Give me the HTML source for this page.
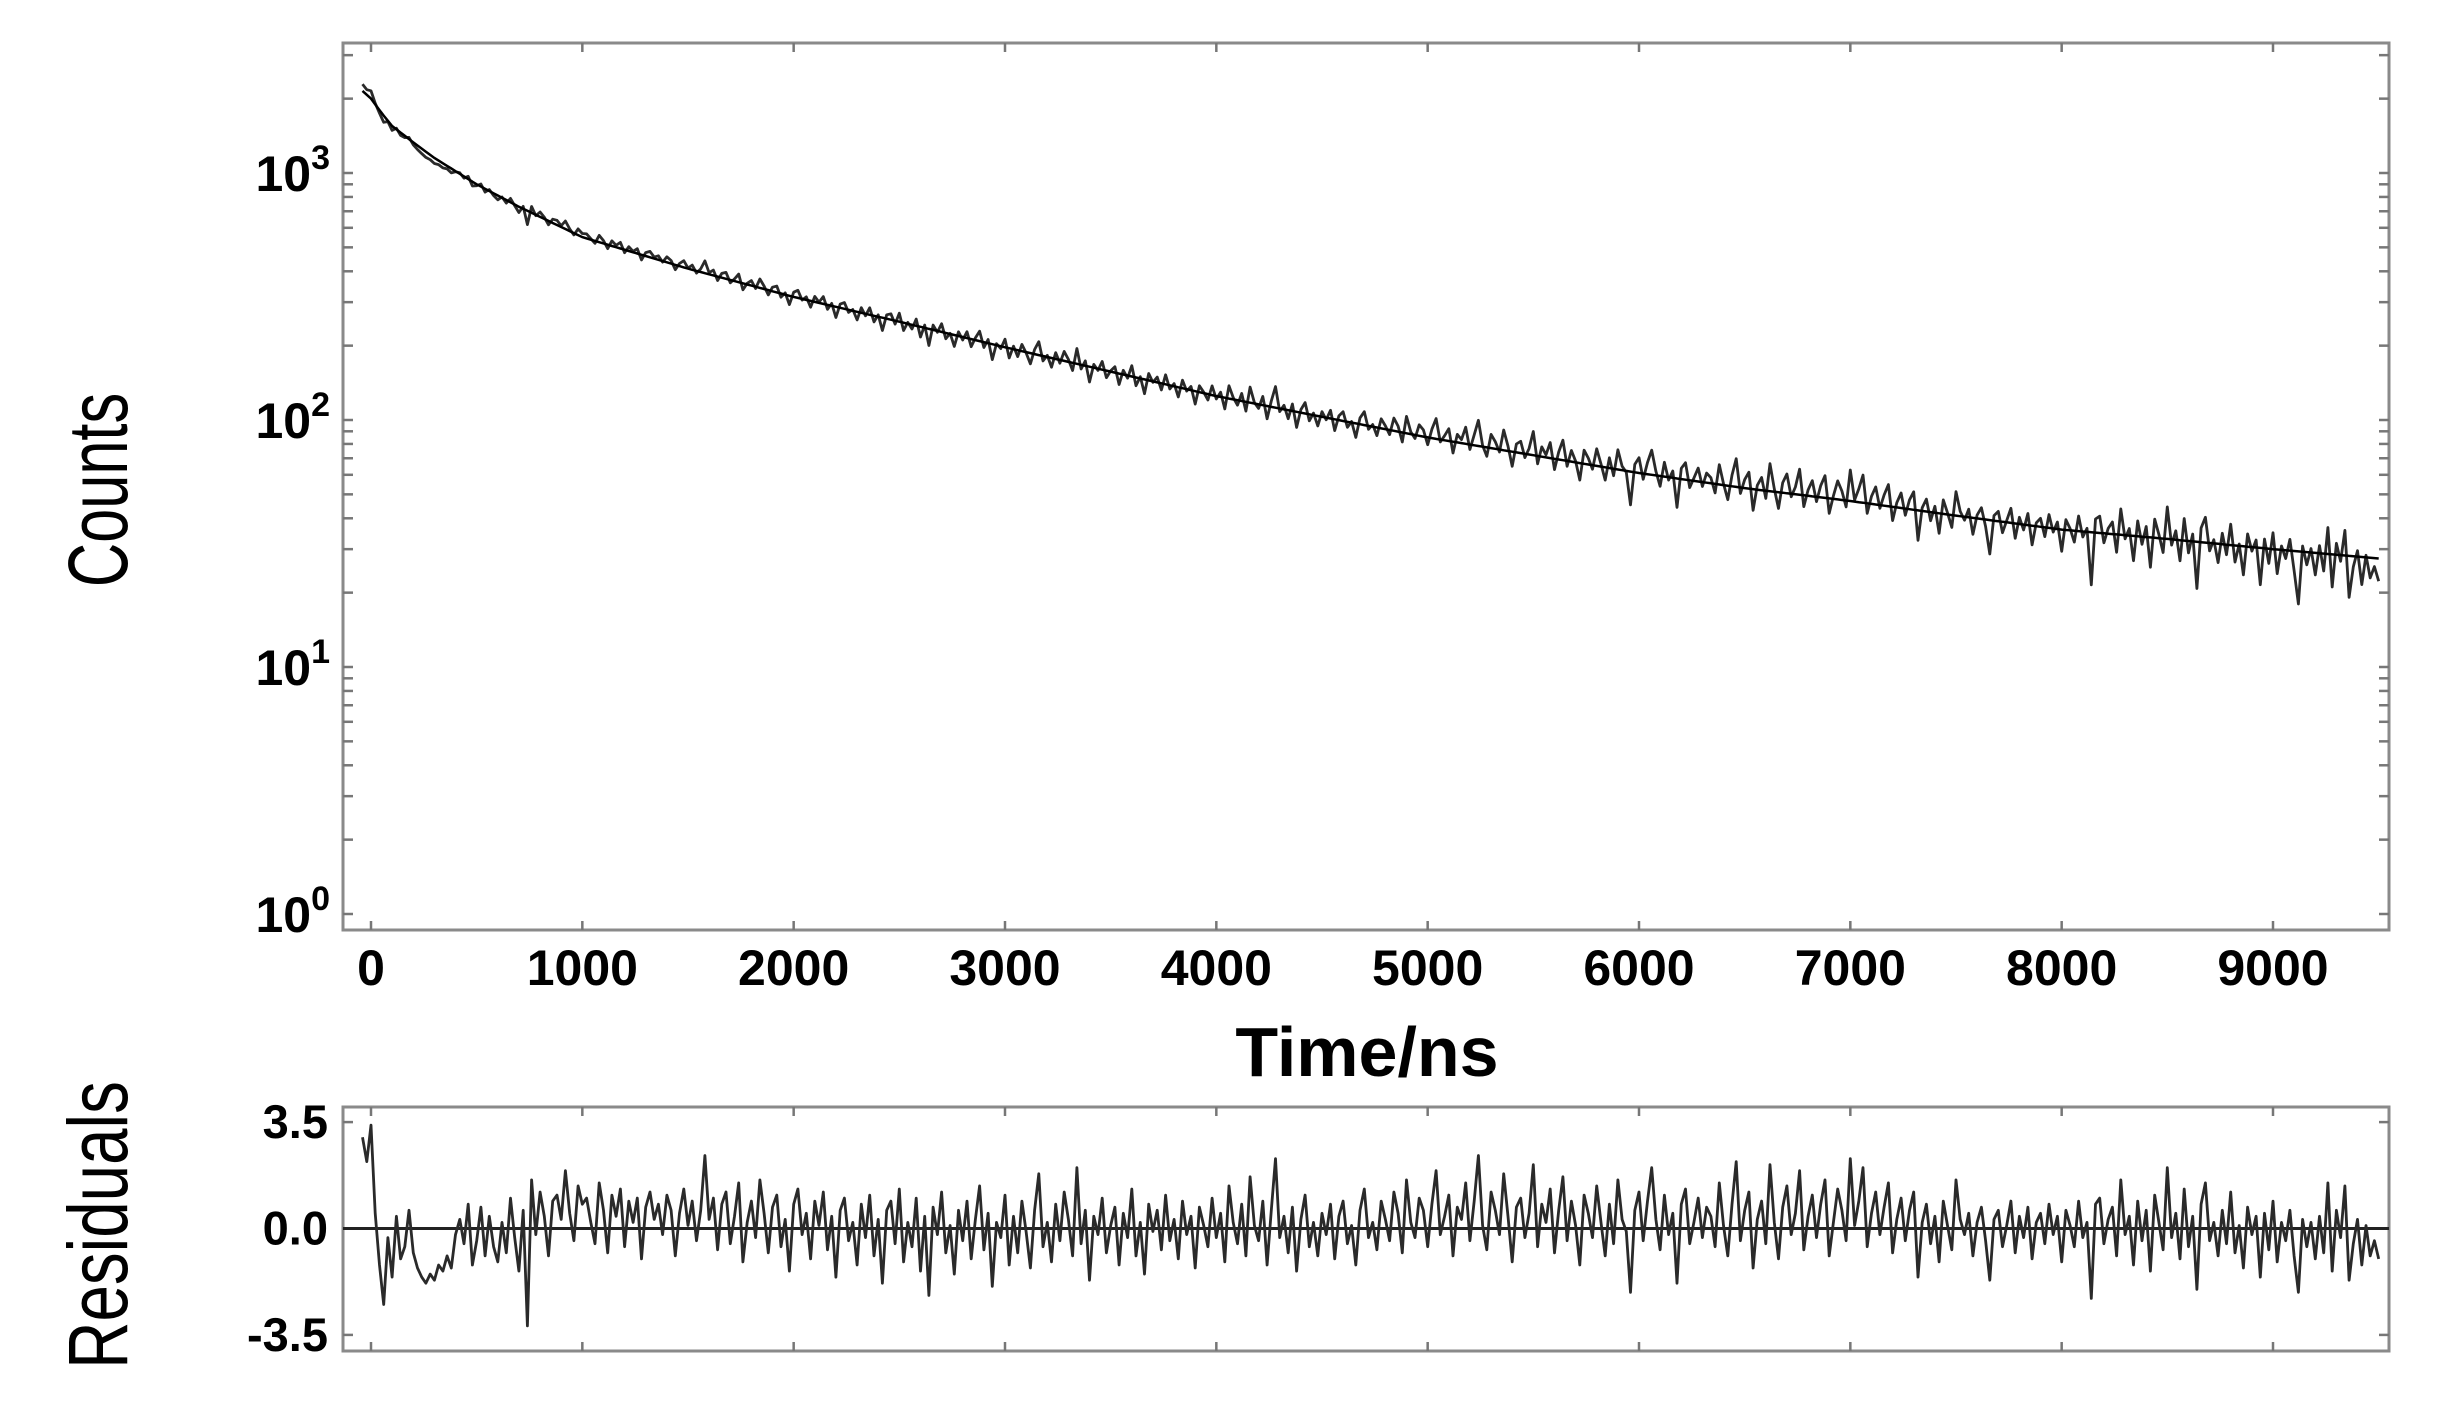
<!DOCTYPE html>
<html><head><meta charset="utf-8"><style>
html,body{margin:0;padding:0;background:#fff;}
svg{display:block;}
text{font-family:"Liberation Sans",sans-serif;fill:#000;}
</style></head><body>
<svg id="chart" width="2455" height="1426" viewBox="0 0 2455 1426" xmlns="http://www.w3.org/2000/svg">
<rect width="2455" height="1426" fill="#fff"/>
<g id="g"></g>
</svg>
<script>
// ---- data ----
const xTicks = [0,1000,2000,3000,4000,5000,6000,7000,8000,9000];
const yDecades = [0,1,2,3];
const resTicks = [3.5,0.0,-3.5];
const resTickLabels = ["3.5","0.0","-3.5"];
const fitTimes = [-40,0,50,100,200,300,500,700,1000,1500,2000,2500,3000,3500,4000,4500,5000,5500,6000,6500,7000,7500,8000,8500,9000,9500];
const fitValues = [2150,2000,1750,1550,1330,1150,900,730,550,410,315,250,197,157,125,103,85,72,61,53,47,41,36,33,30,27.5];
const tStart = -40;
const tStep = 20;
const residuals = [
3.0,2.2,3.4,0.5,-1.2,-2.5,-0.3,-1.6,0.4,-1.0,-0.6,0.6,-0.8,-1.3,-1.6,-1.8,-1.5,-1.7,-1.2,-1.4,
-0.9,-1.3,-0.2,0.3,-0.5,0.8,-1.2,-0.4,0.7,-0.9,0.4,-0.6,-1.1,0.2,-0.8,1.0,-0.3,-1.4,0.6,-3.2,
1.6,-0.2,1.2,0.4,-0.9,0.9,1.1,0.3,1.9,0.5,-0.4,1.4,0.8,1.0,0.2,-0.5,1.5,0.6,-0.8,1.1,
0.4,1.3,-0.6,0.9,0.2,1.0,-1.0,0.7,1.2,0.3,0.8,-0.2,1.1,0.6,-0.9,0.5,1.3,0.1,0.9,-0.4,
0.6,2.4,0.3,1.0,-0.7,0.8,1.2,-0.5,0.4,1.5,-1.1,0.2,0.9,-0.3,1.6,0.5,-0.8,0.7,1.1,-0.6,
0.3,-1.4,0.8,1.3,-0.2,0.5,-1.0,0.9,0.1,1.2,-0.7,0.4,-1.6,0.6,1.0,-0.4,0.2,-1.2,0.8,-0.3,
1.1,-0.9,0.3,-1.8,0.6,0.9,-0.5,1.3,-1.1,0.2,-0.6,1.0,-1.4,0.4,-2.2,0.7,-0.2,1.2,-0.8,0.1,
-1.5,0.6,-0.4,0.9,-1.0,0.3,1.4,-0.7,0.5,-1.9,0.2,-0.3,1.1,-1.2,0.4,-0.8,0.9,-0.1,-1.3,0.6,
1.8,-0.6,0.2,-1.1,0.8,-0.4,1.2,0.3,-0.9,2.0,-0.5,0.6,-1.7,0.4,-0.2,1.0,-0.8,0.1,0.7,-1.2,
0.5,-0.3,1.3,-0.9,0.2,-1.5,0.8,-0.1,0.6,-0.7,1.1,-0.4,0.3,-1.0,0.9,-0.2,0.4,-1.3,0.7,0.1,
-0.6,1.0,-0.3,0.5,-1.1,1.4,0.2,-0.5,0.8,-0.9,1.7,0.1,-0.4,0.9,-1.2,0.6,2.3,-0.3,0.4,-0.8,
0.7,-1.4,0.3,1.1,-0.6,0.2,-0.9,0.5,-0.2,0.8,-1.0,0.4,0.9,-0.5,0.1,-1.2,0.6,1.3,-0.3,0.2,
-0.7,0.9,0.3,-0.4,1.2,0.5,-0.8,1.6,0.2,-0.3,1.0,0.6,-0.6,0.8,1.9,-0.2,0.4,1.1,-0.9,0.7,
0.3,1.5,-0.4,0.9,2.4,0.1,-0.7,1.2,0.6,-0.2,1.8,0.4,-1.1,0.7,1.0,-0.3,0.5,2.1,-0.6,0.8,
0.2,1.3,-0.8,0.6,1.7,-0.4,0.9,0.1,-1.2,1.1,0.5,-0.3,1.4,0.2,-0.9,0.8,-0.5,1.6,0.3,-0.1,
-2.1,0.6,1.2,-0.4,0.9,2.0,0.3,-0.7,1.1,-0.2,0.5,-1.8,0.8,1.3,-0.5,0.2,1.0,-0.3,0.7,0.4,
-0.6,1.5,0.1,-0.9,0.8,2.2,-0.4,0.6,1.2,-1.3,0.3,0.9,-0.5,2.1,0.2,-1.0,0.7,1.4,-0.2,0.5,
1.9,-0.7,0.4,1.1,-0.3,0.8,1.6,-0.9,0.2,1.3,0.6,-0.4,2.3,0.1,0.9,2.0,-0.6,0.5,1.2,-0.2,
0.7,1.5,-0.8,0.3,1.0,-0.4,0.6,1.2,-1.6,0.2,0.8,-0.5,0.4,-1.1,0.9,0.1,-0.7,1.6,0.3,-0.2,
0.5,-0.9,0.2,0.7,-0.4,-1.7,0.3,0.6,-0.6,0.1,0.9,-0.8,0.4,-0.3,0.7,-1.0,0.2,0.5,-0.5,0.8,
-0.2,0.4,-1.1,0.6,0.1,-0.6,0.9,-0.3,0.2,-2.3,0.8,1.0,-0.5,0.3,0.7,-0.9,1.6,-0.2,0.4,-1.2,
0.9,-0.4,0.6,-1.4,1.1,0.2,-0.7,2.0,-0.3,0.5,-1.0,1.3,-0.6,0.4,-2.0,0.8,1.5,-0.4,0.2,-0.9,
0.6,-0.5,1.2,-0.8,0.1,-1.3,0.7,-0.2,0.4,-1.6,0.5,-0.7,0.9,-1.1,0.2,-0.4,0.6,-0.9,-2.1,0.3,
-0.6,0.2,-1.0,0.4,-0.8,1.5,-1.4,0.6,-0.3,1.4,-1.7,-0.5,0.3,-1.2,0.1,-0.9,-0.4,-1.0
];

// ---- layout ----
const L = 343, R = 2389;
const mT = 43, mB = 930;
const rT = 1107, rB = 1351;
const NS = "http://www.w3.org/2000/svg";
const g = document.getElementById('g');

const X = t => 371 + (t - 0) * (2273 - 371) / 9000;
const Y = v => 914 - Math.log10(v) * 247;
const YR = r => 1228.5 - r * 30.4;

function el(tag, attrs, parent) {
  const e = document.createElementNS(NS, tag);
  for (const k in attrs) e.setAttribute(k, attrs[k]);
  (parent || g).appendChild(e);
  return e;
}

function fitAt(t) {
  if (t <= fitTimes[0]) return fitValues[0];
  for (let i = 1; i < fitTimes.length; i++) {
    if (t <= fitTimes[i]) {
      const f = (t - fitTimes[i-1]) / (fitTimes[i] - fitTimes[i-1]);
      return Math.pow(10, Math.log10(fitValues[i-1]) * (1-f) + Math.log10(fitValues[i]) * f);
    }
  }
  return fitValues[fitValues.length-1];
}

const mf = el('rect', {x:L, y:mT, width:R-L, height:mB-mT, fill:'none', stroke:'#8a8a8a', 'stroke-width':3});


const rf = el('rect', {x:L, y:rT, width:R-L, height:rB-rT, fill:'none', stroke:'#8a8a8a', 'stroke-width':3});



xTicks.forEach(t => {
  const x = X(t);
  [[mB, -9],[mT, 9],[rB, -9],[rT, 9]].forEach(([y0, d]) => {
    const tk = el('line', {x1:x, x2:x, y1:y0, y2:y0+d, stroke:'#777', 'stroke-width':2.5});
    
    
  });
  const tx = el('text', {x:x, y:985, 'text-anchor':'middle', 'font-size':50, 'font-weight':'bold'});
  tx.textContent = String(t);
  
  
});

yDecades.forEach(d => {
  for (let m = 1; m <= 9; m++) {
    const v = m * Math.pow(10, d);
    const y = Y(v);
    if (y < mT + 2) continue;
    [[L, 10],[R, -10]].forEach(([x0, dx]) => {
      const tk = el('line', {x1:x0, x2:x0+dx, y1:y, y2:y, stroke:'#777', 'stroke-width':2.5});
      
      
    });
  }
  const tx = el('text', {x:330, y:Y(Math.pow(10,d))+18, 'text-anchor':'end', 'font-size':50, 'font-weight':'bold'});
  
  
  const a = document.createElementNS(NS, 'tspan'); a.textContent = '10'; tx.appendChild(a);
  const b = document.createElementNS(NS, 'tspan'); b.textContent = String(d);
  b.setAttribute('font-size', 34); b.setAttribute('dy', -22); tx.appendChild(b);
});

resTicks.forEach((r, i) => {
  const y = YR(r);
  if (r !== 0) {
    [[L, 10],[R, -10]].forEach(([x0, dx]) => {
      const tk = el('line', {x1:x0, x2:x0+dx, y1:y, y2:y, stroke:'#777', 'stroke-width':2.5});
      
      
    });
  }
  const tx = el('text', {x:328, y:y+16, 'text-anchor':'end', 'font-size':47, 'font-weight':'bold'});
  tx.textContent = resTickLabels[i];
  
  
});

const zl = el('line', {x1:L, x2:R, y1:YR(0), y2:YR(0), stroke:'#222', 'stroke-width':3});



let dPts = [], rPts = [];
residuals.forEach((r, i) => {
  const t = tStart + i * tStep;
  const f = fitAt(t);
  const c = f + r * Math.sqrt(f);
  dPts.push(X(t).toFixed(1) + ',' + Y(c).toFixed(1));
  rPts.push(X(t).toFixed(1) + ',' + YR(r).toFixed(1));
});
const dl = el('polyline', {points:dPts.join(' '), fill:'none', stroke:'#2a2a2a', 'stroke-width':2.8, 'stroke-linejoin':'round'});



let fPts = [];
for (let i = 0; i < residuals.length; i++) {
  const t = tStart + i * tStep;
  fPts.push(X(t).toFixed(1) + ',' + Y(fitAt(t)).toFixed(1));
}
const fl = el('polyline', {points:fPts.join(' '), fill:'none', stroke:'#000', 'stroke-width':2.5});



const rl = el('polyline', {points:rPts.join(' '), fill:'none', stroke:'#2a2a2a', 'stroke-width':2.8, 'stroke-linejoin':'round'});



const xt = el('text', {x:1367, y:1076, 'text-anchor':'middle', 'font-size':70, 'font-weight':'bold'});
xt.textContent = 'Time/ns';



const yt = el('text', {'text-anchor':'middle', 'font-size':84, transform:'translate(127,490) rotate(-90) scale(0.73,1)'});
yt.textContent = 'Counts';



const rt = el('text', {'text-anchor':'middle', 'font-size':84, transform:'translate(127,1225) rotate(-90) scale(0.78,1)'});
rt.textContent = 'Residuals';


</script>
</body></html>
